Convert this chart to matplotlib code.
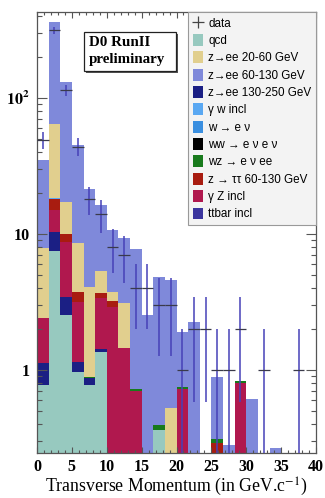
import numpy as np
import matplotlib
matplotlib.use("Agg")
import matplotlib.pyplot as plt
from matplotlib.patches import Patch, Rectangle
from matplotlib.lines import Line2D
from matplotlib.ticker import FixedLocator, LogLocator, MultipleLocator, NullFormatter

plt.rcParams['mathtext.fontset'] = 'stix'

# 24 bins from 0 to 40 GeV
bin_edges = np.linspace(0, 40, 25)

# stacked MC contributions (events per bin), bottom to top
qcd = [0.776, 7.5, 2.54, 0.97, 0.776, 1.35, 0, 0, 0, 0, 0.362, 0,
       0, 0, 0, 0, 0, 0, 0, 0, 0, 0, 0, 0]
zee_130_250 = [0.345, 2.9, 0.92, 0.18, 0.093, 0.07, 0, 0, 0, 0, 0, 0,
               0, 0, 0, 0, 0, 0, 0, 0, 0, 0, 0, 0]
gamma_z = [1.29, 4.6, 5.32, 2.03, 0, 1.97, 2.92, 1.44, 0.70, 0, 0, 0,
           0.72, 0, 0, 0, 0, 0.80, 0, 0, 0, 0, 0, 0]
ztautau = [0, 3.1, 1.17, 0.59, 0, 0.29, 0.29, 0, 0, 0, 0, 0,
           0, 0, 0, 0.289, 0, 0, 0, 0, 0, 0, 0, 0]
wz = [0, 0, 0, 0, 0.024, 0, 0, 0, 0.03, 0, 0.032, 0,
      0.03, 0, 0, 0.02, 0, 0.035, 0, 0, 0, 0, 0, 0]
ww = [0] * 24
wenu = [0] * 24
gamma_w = [0, 0.3, 0, 0, 0, 0, 0, 0, 0, 0, 0, 0,
           0, 0, 0, 0, 0, 0, 0, 0, 0, 0, 0, 0]
ttbar = [0] * 24
zee_20_60 = [5.48, 45.8, 7.35, 4.77, 3.21, 1.71, 0.55, 1.65, 0, 0, 0, 0.523,
             0, 0, 0, 0, 0, 0, 0, 0, 0, 0, 0, 0]
zee_60_130 = [27.1, 300, 114.3, 36.6, 17.3, 11.0, 6.9, 6.2, 7.0, 2.54, 4.46, 4.08,
              1.15, 2.26, 0, 0.584, 0.281, 0, 0.61, 0, 0.268, 0, 0, 0]

# observed data counts
data = [49, 316, 115, 44, 18, 14, 8, 7, 4, 4, 3, 3,
        1, 2, 2, 1, 1, 2, 0, 1, 0, 0, 1, 0]

colors = {
    'qcd': '#97c9bf',
    'zee2060': '#e1cf8e',
    'zee60130': '#7f89da',
    'zee130250': '#1b1f84',
    'gw': '#5aa8f2',
    'wenu': '#3a8fe0',
    'ww': '#000000',
    'wz': '#187a1c',
    'ztt': '#a81c10',
    'gz': '#b0184e',
    'ttbar': '#3b359e',
}

stack = [
    (qcd, 'qcd'), (zee_130_250, 'zee130250'), (gamma_z, 'gz'), (ztautau, 'ztt'),
    (wz, 'wz'), (ww, 'ww'), (wenu, 'wenu'), (gamma_w, 'gw'), (ttbar, 'ttbar'),
    (zee_20_60, 'zee2060'), (zee_60_130, 'zee60130'),
]

fig = plt.figure(figsize=(3.25, 4.98), dpi=100)
ax = fig.add_axes([37 / 325, 1 - 453 / 498, 279 / 325, 441 / 498])

width = bin_edges[1] - bin_edges[0]
left = bin_edges[:-1]
bottom = np.zeros(24)
for vals, key in stack:
    vals = np.array(vals, dtype=float)
    ax.bar(left, vals, width=width, bottom=bottom, align='edge',
           color=colors[key], linewidth=0)
    bottom = bottom + vals

# data crosses
centers = left + width / 2
for x0, xc, n in zip(left, centers, data):
    if n <= 0:
        continue
    err = np.sqrt(n)
    ax.vlines(xc, max(n - err, 1e-3), n + err, color='#4641b8', lw=1.1, zorder=5)
    ax.hlines(n, x0, x0 + width, color='#3a3a4a', lw=0.9, zorder=6)

ax.set_yscale('log')
ax.set_xlim(0, 40)
ax.set_ylim(0.245, 430)

serif = 'Liberation Serif'
ax.xaxis.set_major_locator(MultipleLocator(5))
ax.xaxis.set_minor_locator(MultipleLocator(1))
ax.yaxis.set_major_locator(FixedLocator([1, 10, 100]))
ax.yaxis.set_minor_locator(LogLocator(base=10, subs=np.arange(2, 10)))
ax.yaxis.set_minor_formatter(NullFormatter())
ax.set_yticklabels(['1', '10', r'$\mathbf{10^{2}}$'])
for lab in ax.get_xticklabels() + ax.get_yticklabels():
    lab.set_fontfamily(serif)
    lab.set_fontweight('bold')
    lab.set_fontsize(11.5)

ax.tick_params(axis='both', which='both', direction='in', top=True, right=True,
               color='#555555', width=0.8)
ax.tick_params(axis='x', which='major', length=4.5, pad=4)
ax.tick_params(axis='x', which='minor', length=2.5)
ax.tick_params(axis='y', which='major', length=7, pad=5)
ax.tick_params(axis='y', which='minor', length=3.5)
for s in ax.spines.values():
    s.set_color('#555555')
    s.set_linewidth(0.9)

ax.set_xlabel('Transverse Momentum (in GeV.c$^{-1}$)', fontfamily=serif,
              fontsize=12.8, va='center')
ax.xaxis.set_label_coords(0.5, (453 - 487) / 441)

# legend
labels = ['data', 'qcd', 'z\u2192ee 20-60 GeV', 'z\u2192ee 60-130 GeV',
          'z\u2192ee 130-250 GeV', '\u03b3 w incl', 'w \u2192 e \u03bd',
          'ww \u2192 e \u03bd e \u03bd', 'wz \u2192 e \u03bd ee',
          'z \u2192 \u03c4\u03c4 60-130 GeV', '\u03b3 Z incl', 'ttbar incl']
keys = ['qcd', 'zee2060', 'zee60130', 'zee130250', 'gw', 'wenu', 'ww', 'wz',
        'ztt', 'gz', 'ttbar']
handles = [Line2D([], [], ls='none', marker='+', color='#444444', markersize=9, mew=0.9)]
handles += [Patch(facecolor=colors[k], edgecolor='none') for k in keys]
leg = ax.legend(handles, labels, loc='upper right', bbox_to_anchor=(1.0, 1.0),
                borderaxespad=0, fancybox=False, framealpha=1,
                facecolor='#f3f3f3', edgecolor='#999999',
                prop={'family': ['Liberation Sans', 'DejaVu Sans'], 'size': 8.4},
                handlelength=0.85, handleheight=1.2, handletextpad=0.45,
                labelspacing=0.38, borderpad=0.4)
leg.get_frame().set_linewidth(0.8)

# D0 preliminary box with shadow
fig.patches.append(Rectangle((86 / 325, 1 - 73 / 498), 92 / 325, 39 / 498,
                             transform=fig.transFigure, fc='#555555', ec='none', zorder=8))
fig.patches.append(Rectangle((84 / 325, 1 - 71 / 498), 92 / 325, 39 / 498,
                             transform=fig.transFigure, fc='white', ec='#222222',
                             lw=0.9, zorder=9))
fig.text(89 / 325, 1 - 43 / 498, 'D0 RunII', fontfamily=serif, fontweight='bold',
         fontsize=10.8, va='center', ha='left', zorder=10)
fig.text(89 / 325, 1 - 60 / 498, 'preliminary', fontfamily=serif, fontweight='bold',
         fontsize=10.8, va='center', ha='left', zorder=10)

fig.savefig('out.png', dpi=100)
